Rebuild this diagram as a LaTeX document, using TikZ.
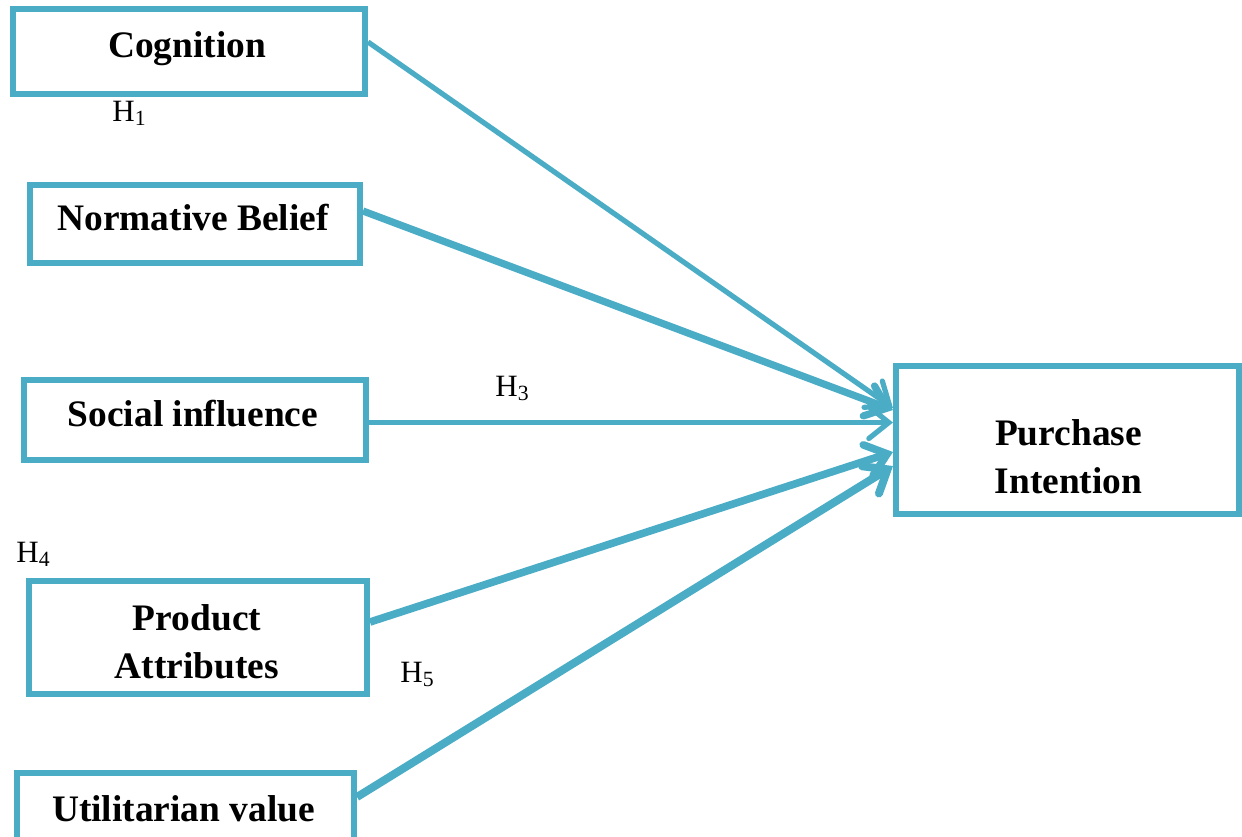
\documentclass[tikz,border=0pt]{standalone}
\usepackage{fontspec}
\setmainfont{Liberation Serif}
\usetikzlibrary{arrows.meta,calc}
\definecolor{aqua}{HTML}{4BACC6}
\begin{document}
\begin{tikzpicture}[x=0.5pt,y=-0.5pt,
  box/.style={draw=aqua,line width=3pt,inner sep=0pt},
  boxtext/.style={inner sep=0pt,align=center,
    font=\fontsize{18.7}{24}\selectfont\bfseries},
  hlab/.style={anchor=base west,inner sep=0pt,font=\fontsize{15.5}{18}\selectfont},
  conn/.style={draw=aqua,-{Straight Barb[length=10pt,width=16pt,line cap=round]}},
]
\useasboundingbox (0,0) rectangle (1242,836);
\clip (0,0) rectangle (1242,836);
\node[box,minimum width=176pt,minimum height=42.5pt] (cog) at (189,51.5) {};
\node[box,minimum width=165pt,minimum height=39pt] (norm) at (195,224) {};
\node[box,minimum width=171pt,minimum height=40pt] (soc) at (195,420) {};
\node[box,minimum width=169pt,minimum height=56.5pt] (prod) at (198,637.5) {};
\node[box,minimum width=168.5pt,minimum height=35pt] (util) at (185.5,808) {};
\node[box,minimum width=171.5pt,minimum height=74pt] (purch) at (1067.5,440) {};

\node[boxtext] (cogt) at ($(cog)+(-2,-3)$) {Cognition};
\node[boxtext] (normt) at ($(norm)+(-2,-6)$) {Normative Belief};
\node[boxtext] (soct) at ($(soc)+(-2,-6)$) {Social influence};
\node[boxtext] (prodt) at ($(prod)+(-1,4)$) {Product\\Attributes};
\node[boxtext] (utilt) at ($(util)+(-2,1)$) {Utilitarian value};
\node[boxtext] (purcht) at ($(purch)+(1,17)$) {Purchase\\Intention};

\draw[conn,line width=2.6pt] ($(cog.east)+(0,-9.5)$) -- ($(purch.west)+(0,-32)$);
\draw[conn,line width=3.6pt] ($(norm.east)+(0,-13)$) -- ($(purch.west)+(0,-30)$);
\draw[conn,line width=2.6pt] ($(soc.east)+(0,2.5)$) -- ($(purch.west)+(0,-17.5)$);
\draw[conn,line width=3.8pt] ($(prod.east)+(0,-15.5)$) -- ($(purch.west)+(0,12)$);
\draw[conn,line width=4pt] ($(util.east)+(0,-11)$) -- ($(purch.west)+(0,26)$);

\node[hlab] (h1) at (112,121) {H\textsubscript{1}};
\node[hlab] (h3) at (495,396) {H\textsubscript{3}};
\node[hlab] (h4) at (16,562) {H\textsubscript{4}};
\node[hlab] (h5) at (400,682) {H\textsubscript{5}};
\end{tikzpicture}
\end{document}
